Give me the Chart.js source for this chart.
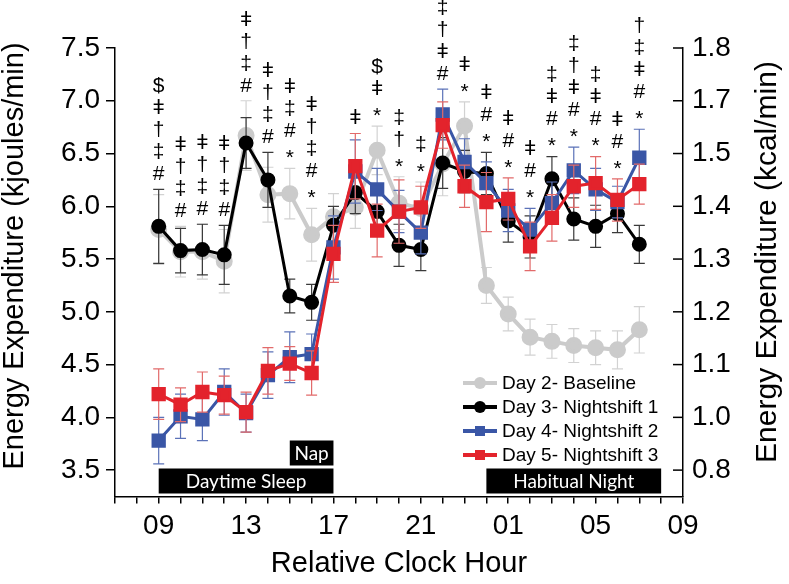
<!DOCTYPE html>
<html>
<head>
<meta charset="utf-8">
<script src="https://cdn.jsdelivr.net/npm/chart.js@4"></script>
<style>
  body { margin: 0; background: #fff; }
  canvas { display: block; }
</style>
</head>
<body>
<canvas id="eeChart" width="789" height="584"></canvas>
<script>
// clock hours of each sample (x = hours after 07:00)
var timeLabels = ['09','10','11','12','13','14','15','16','17','18','19','20','21','22','23','00','01','02','03','04','05','06','07'];
var xTickLabels = ['09','13','17','21','01','05','09'];
var yTickValues = [3.5, 4.0, 4.5, 5.0, 5.5, 6.0, 6.5, 7.0, 7.5];
var rightTickLabels = ['0.8','1.0','1.1','1.2','1.3','1.4','1.5','1.7','1.8'];

// energy expenditure, kJ/min (mean and SEM)
var day2 = [5.78, 5.57, 5.57, 5.48, 6.67, 6.11, 6.12, 5.73, 5.90, 5.99, 6.53, 6.03, 5.98, 6.40, 6.76, 5.25, 4.98, 4.76, 4.72, 4.68, 4.66, 4.64, 4.83];
var day2Err = [0.33, 0.24, 0.26, 0.30, 0.33, 0.26, 0.24, 0.25, 0.22, 0.20, 0.23, 0.25, 0.25, 0.30, 0.23, 0.17, 0.16, 0.17, 0.16, 0.16, 0.16, 0.18, 0.22];
var day3 = [5.81, 5.58, 5.59, 5.54, 6.60, 6.25, 5.15, 5.09, 5.82, 6.13, 5.95, 5.63, 5.59, 6.41, 6.33, 6.31, 5.86, 5.71, 6.26, 5.88, 5.81, 5.93, 5.64];
var day3Err = [0.35, 0.21, 0.24, 0.28, 0.24, 0.26, 0.16, 0.17, 0.18, 0.20, 0.20, 0.20, 0.20, 0.24, 0.20, 0.20, 0.20, 0.20, 0.21, 0.20, 0.20, 0.18, 0.18];
var day4 = [3.78, 4.01, 3.98, 4.24, 4.04, 4.40, 4.57, 4.60, 5.61, 6.33, 6.16, 5.95, 5.75, 6.87, 6.42, 6.22, 5.96, 5.78, 6.03, 6.34, 6.16, 6.04, 6.46];
var day4Err = [0.22, 0.21, 0.20, 0.22, 0.18, 0.22, 0.24, 0.19, 0.30, 0.30, 0.20, 0.20, 0.20, 0.24, 0.22, 0.20, 0.20, 0.20, 0.20, 0.22, 0.20, 0.15, 0.27];
var day5 = [4.22, 4.12, 4.24, 4.21, 4.05, 4.44, 4.51, 4.42, 5.55, 6.38, 5.77, 5.95, 5.99, 6.77, 6.19, 6.04, 6.07, 5.62, 5.89, 6.19, 6.22, 6.06, 6.21];
var day5Err = [0.24, 0.16, 0.19, 0.18, 0.19, 0.22, 0.16, 0.21, 0.27, 0.31, 0.25, 0.30, 0.20, 0.22, 0.20, 0.28, 0.20, 0.23, 0.22, 0.20, 0.25, 0.20, 0.19];

// significance marks above each hour, top to bottom
var sigMarks = [
  ['$','ǂ','†','‡','#'], ['ǂ','†','‡','#'], ['ǂ','†','‡','#'], ['ǂ','†','‡','#'],
  ['ǂ','†','‡','#'], ['ǂ','†','‡','#'], ['ǂ','‡','#','*'], ['ǂ','†','‡','#','*'],
  [], ['ǂ'], ['$','ǂ','*'], ['‡','†','*'], ['‡','*'], ['‡','†','ǂ','#'],
  ['ǂ','*'], ['ǂ','#','*'], ['ǂ','#','*'], ['ǂ','#','*'], ['‡','ǂ','#','*'],
  ['‡','†','ǂ','#','*'], ['‡','ǂ','#','*'], ['ǂ','#','*'], ['†','‡','ǂ','#','*']
];

// black bars (start/end in hours after 07:00)
var bandLabels = ['Daytime Sleep', 'Nap', 'Habitual Night'];
var bandStart = [2, 8, 17];
var bandEnd = [10, 10, 25];
var bandRow = [0, 1, 0];

var xHours = timeLabels.map(function (t, i) { return i + 2; });
function pts(vals) {
  return vals.map(function (v, i) { return { x: xHours[i], y: v }; });
}

var errSets = [day2Err, day3Err, day4Err, day5Err];
var errColors = ['#d2d2d2', '#3a3a3a', '#5b72b8', '#e26a6a'];

var axisFont = 'Liberation Sans, Arial, sans-serif';

var overlay = {
  id: 'overlay',
  beforeDatasetDraw: function (chart, args) {
    var ctx = chart.ctx, xs = chart.scales.x, ys = chart.scales.y;
    var vals = chart.data.datasets[args.index].data;
    var err = errSets[args.index];
    ctx.save();
    ctx.strokeStyle = errColors[args.index];
    ctx.lineWidth = 1.2;
    vals.forEach(function (p, i) {
      var px = xs.getPixelForValue(p.x);
      var top = ys.getPixelForValue(p.y + err[i]);
      var bot = ys.getPixelForValue(p.y - err[i]);
      ctx.beginPath();
      ctx.moveTo(px, top); ctx.lineTo(px, bot);
      ctx.moveTo(px - 5.5, top); ctx.lineTo(px + 5.5, top);
      ctx.moveTo(px - 5.5, bot); ctx.lineTo(px + 5.5, bot);
      ctx.stroke();
    });
    ctx.restore();
  },
  afterDraw: function (chart) {
    var ctx = chart.ctx, xs = chart.scales.x, ys = chart.scales.y;
    var area = chart.chartArea;
    ctx.save();

    // inward ticks on the right axis
    ctx.strokeStyle = '#000';
    ctx.lineWidth = 1.5;
    yTickValues.forEach(function (v) {
      var py = ys.getPixelForValue(v);
      ctx.beginPath();
      ctx.moveTo(area.right - 10, py);
      ctx.lineTo(area.right, py);
      ctx.stroke();
    });

    // black bars
    ctx.font = '19px Lato, "Open Sans", sans-serif';
    ctx.textAlign = 'center';
    ctx.textBaseline = 'middle';
    bandLabels.forEach(function (lab, i) {
      var x0 = xs.getPixelForValue(bandStart[i]);
      var x1 = xs.getPixelForValue(bandEnd[i]);
      var y1 = area.bottom - 3 - bandRow[i] * 28;
      ctx.fillStyle = '#000';
      ctx.fillRect(x0, y1 - 25, x1 - x0, 25);
      ctx.fillStyle = '#fff';
      ctx.fillText(lab, (x0 + x1) / 2, y1 - 12);
    });

    // significance marks
    ctx.fillStyle = '#000';
    ctx.font = '21px "Liberation Sans", "DejaVu Sans", sans-serif';
    sigMarks.forEach(function (marks, i) {
      if (!marks.length) return;
      var top = Infinity;
      chart.data.datasets.forEach(function (ds, d) {
        var py = ys.getPixelForValue(ds.data[i].y + errSets[d][i]);
        if (py < top) top = py;
      });
      var px = xs.getPixelForValue(xHours[i]);
      var base = top - 15;
      for (var k = marks.length - 1; k >= 0; k--) {
        var off = marks[k] === '*' ? 5 : 0;
        ctx.fillText(marks[k], px, base - (marks.length - 1 - k) * 22 + off);
      }
    });

    // legend
    var rows = [383, 407, 431, 455];
    chart.data.datasets.forEach(function (ds, d) {
      var y = rows[d];
      ctx.strokeStyle = ds.borderColor;
      ctx.lineWidth = 4;
      ctx.beginPath();
      ctx.moveTo(463, y); ctx.lineTo(497, y);
      ctx.stroke();
      ctx.fillStyle = ds.borderColor;
      if (ds.pointStyle === 'circle') {
        ctx.beginPath(); ctx.arc(480, y, 6, 0, Math.PI * 2); ctx.fill();
      } else {
        ctx.fillRect(475, y - 5, 10, 10);
      }
      ctx.fillStyle = '#000';
      ctx.font = '19px ' + axisFont;
      ctx.textAlign = 'left';
      ctx.fillText(ds.label, 502, y + 1);
    });

    // axis titles
    ctx.fillStyle = '#000';
    ctx.textAlign = 'center';
    ctx.textBaseline = 'middle';
    ctx.font = '29px ' + axisFont;
    ctx.fillText('Relative Clock Hour', (area.left + area.right) / 2, 564);
    ctx.save();
    ctx.translate(15, 256);
    ctx.rotate(-Math.PI / 2);
    ctx.fillText('Energy Expenditure (kjoules/min)', 0, 0);
    ctx.restore();
    ctx.save();
    ctx.translate(768, 262);
    ctx.rotate(-Math.PI / 2);
    ctx.font = '30px ' + axisFont;
    ctx.fillText('Energy Expenditure (kcal/min)', 0, 0);
    ctx.restore();

    ctx.restore();
  }
};

var tickFont = { family: axisFont, size: 28 };

var ctx = document.getElementById('eeChart');
var eeChart = new Chart(ctx, {
  type: 'line',
  data: {
    datasets: [
      { label: 'Day 2- Baseline', data: pts(day2), borderColor: '#cbcbcb', backgroundColor: '#cbcbcb',
        borderWidth: 4, pointStyle: 'circle', pointRadius: 6.5, order: 4 },
      { label: 'Day 3- Nightshift 1', data: pts(day3), borderColor: '#000000', backgroundColor: '#000000',
        borderWidth: 3, pointStyle: 'circle', pointRadius: 6, order: 3 },
      { label: 'Day 4- Nightshift 2', data: pts(day4), borderColor: '#3a56a6', backgroundColor: '#3a56a6',
        borderWidth: 3, pointStyle: 'rect', pointRadius: 8, order: 2 },
      { label: 'Day 5- Nightshift 3', data: pts(day5), borderColor: '#e3232c', backgroundColor: '#e3232c',
        borderWidth: 3, pointStyle: 'rect', pointRadius: 8, order: 1 }
    ]
  },
  options: {
    responsive: false,
    animation: false,
    layout: { padding: { top: 48, left: 0, right: 0, bottom: 0 } },
    plugins: { legend: { display: false }, tooltip: { enabled: false } },
    scales: {
      x: {
        type: 'linear', min: 0, max: 26,
        ticks: {
          stepSize: 1, autoSkip: false, maxRotation: 0, font: tickFont, color: '#000', padding: 6,
          callback: function (v) { return (v - 2) % 4 === 0 ? xTickLabels[(v - 2) / 4] : ''; }
        },
        grid: { drawOnChartArea: false, tickLength: 7, color: '#000', lineWidth: 1.5 },
        border: { color: '#000', width: 1.5 },
        afterFit: function (s) { s.height = 87.5; }
      },
      y: {
        type: 'linear', position: 'left', min: 3.25, max: 7.5,
        afterBuildTicks: function (s) { s.ticks = yTickValues.map(function (v) { return { value: v }; }); },
        ticks: { font: tickFont, color: '#000', padding: 6, callback: function (v) { return v.toFixed(1); } },
        grid: { drawOnChartArea: false, tickLength: 9, color: '#000', lineWidth: 1.5 },
        border: { color: '#000', width: 1.5 },
        afterFit: function (s) { s.width = 115; }
      },
      y2: {
        type: 'linear', position: 'right', min: 3.25, max: 7.5,
        afterBuildTicks: function (s) { s.ticks = yTickValues.map(function (v) { return { value: v }; }); },
        ticks: { font: tickFont, color: '#000', padding: 9, callback: function (v, i) { return rightTickLabels[i]; } },
        grid: { drawOnChartArea: false, drawTicks: false },
        border: { color: '#000', width: 1.5 },
        afterFit: function (s) { s.width = 106; }
      }
    }
  },
  plugins: [overlay]
});
</script>
</body>
</html>
